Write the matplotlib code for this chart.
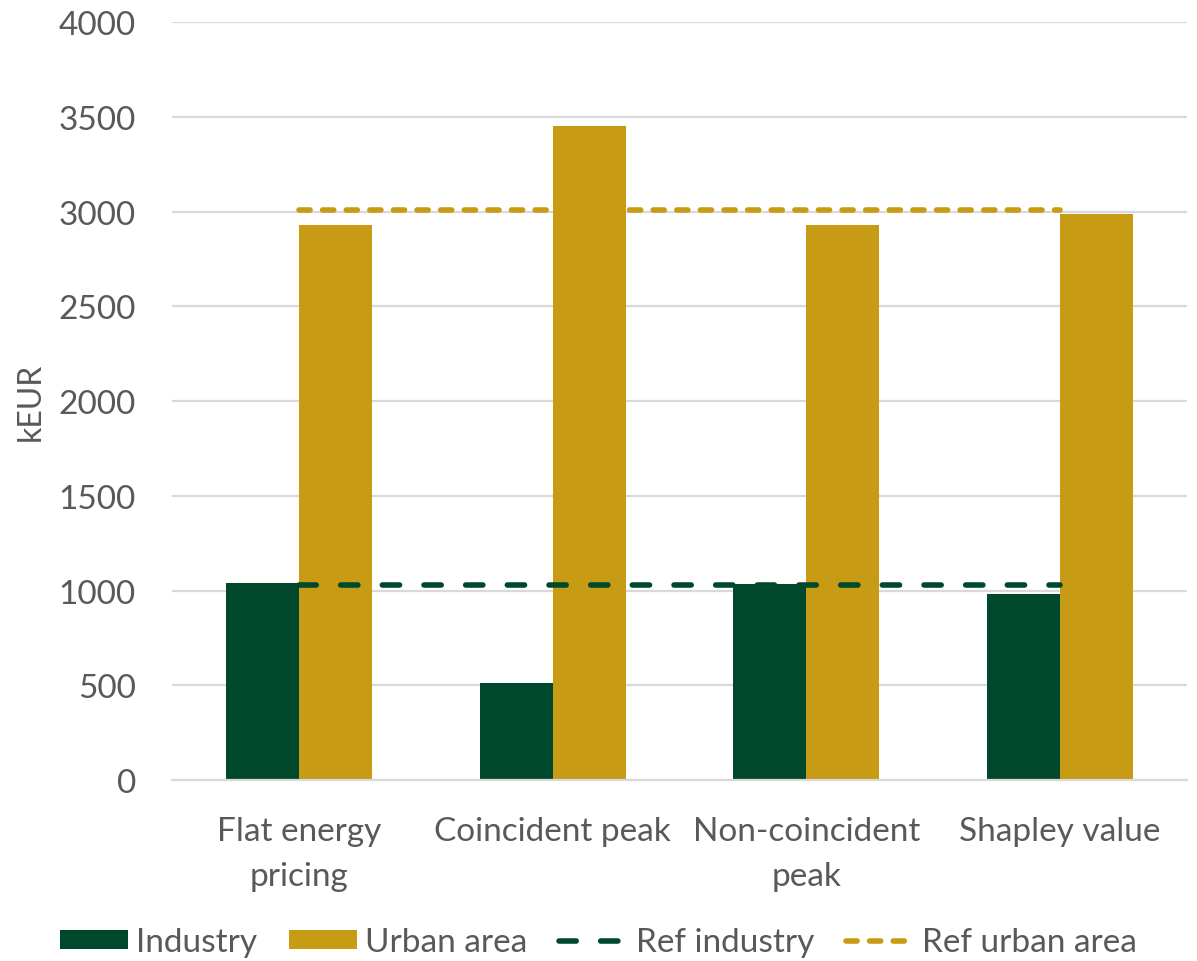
import matplotlib
matplotlib.use("Agg")
import matplotlib.pyplot as plt
import numpy as np

categories = ["Flat energy\npricing", "Coincident peak", "Non-coincident\npeak", "Shapley value"]
industry = [1040, 513, 1035, 980]
urban_area = [2930, 3453, 2930, 2988]
ref_industry = [1030, 1030, 1030, 1030]
ref_urban_area = [3010, 3010, 3010, 3010]
y_ticks = [0, 500, 1000, 1500, 2000, 2500, 3000, 3500, 4000]

GREEN = "#00482B"
GOLD = "#C89B14"
TEXT = "#595959"
GRID = "#D9D9D9"

plt.rcParams["font.family"] = ["Lato", "DejaVu Sans"]

fig = plt.figure(figsize=(11.97, 9.62), dpi=100)
ax = fig.add_axes([0.1437, 0.188, 0.8479, 0.788])

x = np.arange(len(categories))
w = 0.2877
h_ind = ax.bar(x - w / 2, industry, width=w, color=GREEN, label="Industry", zorder=2)
h_urb = ax.bar(x + w / 2, urban_area, width=w, color=GOLD, label="Urban area", zorder=2)
(h_rind,) = ax.plot(x, ref_industry, color=GREEN, lw=4, linestyle=(0, (3.1, 4.4)),
                    dash_capstyle="round", label="Ref industry", zorder=3)
(h_rurb,) = ax.plot(x, ref_urban_area, color=GOLD, lw=4, linestyle=(0, (2.0, 2.25)),
                    dash_capstyle="round", label="Ref urban area", zorder=3)

ax.set_xlim(-0.5, len(categories) - 0.5)
ax.set_ylim(0, 4000)
ax.set_yticks(y_ticks)
ax.set_xticks(x)
ax.set_xticklabels(categories, fontsize=24, color=TEXT, linespacing=1.6)
ax.tick_params(axis="y", labelsize=24, labelcolor=TEXT, length=0, pad=26)
ax.tick_params(axis="x", length=0, pad=26)
ax.yaxis.grid(True, color=GRID, lw=1.6, zorder=0)
ax.set_axisbelow(True)
for s in ["left", "right", "top"]:
    ax.spines[s].set_visible(False)
ax.spines["bottom"].set_color(GRID)
ax.spines["bottom"].set_linewidth(1.6)
ax.set_ylabel("kEUR", fontsize=23, color=TEXT, labelpad=9)

leg = fig.legend([h_ind, h_urb, h_rind, h_rurb],
                 ["Industry", "Urban area", "Ref industry", "Ref urban area"],
                 loc="center", bbox_to_anchor=(0.5, 0.0195), ncol=4, frameon=False,
                 fontsize=24, handlelength=2.04, handleheight=0.51,
                 handletextpad=0.25, columnspacing=0.95)
for t in leg.get_texts():
    t.set_color(TEXT)

fig.savefig("out.png", dpi=100)
